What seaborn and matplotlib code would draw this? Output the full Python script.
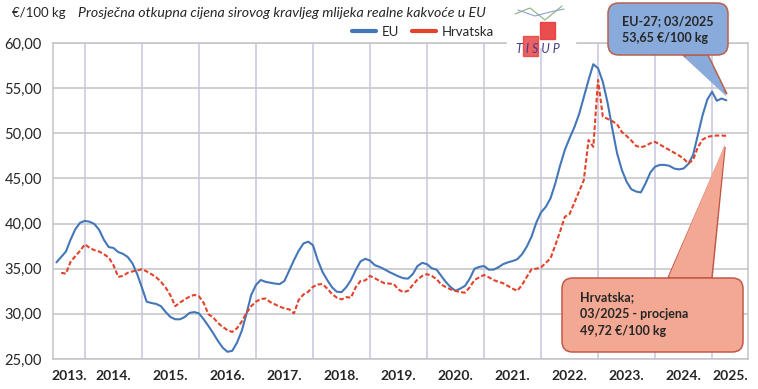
import matplotlib
matplotlib.use("Agg")
import matplotlib.pyplot as plt
import seaborn as sns
import pandas as pd
from matplotlib.patches import FancyBboxPatch, Polygon, Rectangle
from matplotlib.lines import Line2D
from matplotlib.ticker import FuncFormatter

# monthly prices, EUR/100 kg
eu_start = "2013-06"
eu_values = [
    35.7, 36.3, 36.9, 38.25, 39.4, 40.1, 40.3,
    40.2, 39.95, 39.3, 38.2, 37.4, 37.3, 36.85, 36.65, 36.3, 35.6, 34.4, 32.9,
    31.35, 31.2, 31.1, 30.85, 30.2, 29.65, 29.4, 29.4, 29.65, 30.1, 30.2, 30.05,
    29.4, 28.65, 27.85, 27.0, 26.25, 25.8, 25.9, 26.8, 28.1, 30.0, 32.1, 33.2,
    33.75, 33.55, 33.45, 33.35, 33.3, 33.65, 34.8, 35.95, 37.0, 37.8, 38.0, 37.6,
    35.95, 34.65, 33.75, 32.95, 32.45, 32.4, 32.95, 33.75, 34.85, 35.8, 36.1, 35.9,
    35.4, 35.2, 34.95, 34.65, 34.4, 34.15, 33.95, 33.9, 34.4, 35.3, 35.65, 35.5,
    35.05, 34.9, 34.2, 33.5, 32.95, 32.55, 32.8, 33.1, 33.9, 35.0, 35.2, 35.3,
    34.9, 34.9, 35.15, 35.5, 35.7, 35.85, 36.05, 36.6, 37.45, 38.55, 40.1, 41.25,
    41.85, 42.8, 44.45, 46.4, 48.15, 49.45, 50.65, 52.1, 54.0, 55.9, 57.65, 57.2,
    55.7, 53.4, 50.5, 47.8, 45.95, 44.65, 43.8, 43.55, 43.45, 44.45, 45.65, 46.3,
    46.5, 46.5, 46.4, 46.1, 46.0, 46.1, 46.6, 47.6, 49.8, 52.0, 53.75, 54.6,
    53.6, 53.85, 53.65,
]

hr_start = "2013-07"
hr_values = [
    34.55, 34.45, 35.8, 36.4, 37.0, 37.7,
    37.3, 37.05, 36.9, 36.6, 36.25, 35.4, 34.1, 34.2, 34.55, 34.7, 34.8, 34.95,
    34.7, 34.4, 34.05, 33.55, 32.9, 32.05, 30.85, 31.25, 31.6, 31.9, 32.1, 31.95,
    31.2, 29.95, 29.6, 29.0, 28.55, 28.2, 28.0, 28.4, 29.15, 30.1, 30.85, 31.35,
    31.65, 31.7, 31.3, 31.05, 30.8, 30.6, 30.5, 30.05, 31.55, 32.15, 32.45, 33.0,
    33.25, 33.3, 32.8, 32.2, 31.8, 31.6, 31.85, 31.8, 32.95, 33.65, 33.7, 34.2,
    33.95, 33.65, 33.4, 33.35, 33.3, 32.7, 32.4, 32.55, 33.2, 33.8, 34.2, 34.4,
    34.2, 33.85, 33.25, 32.95, 32.7, 32.55, 32.4, 32.35, 32.95, 33.75, 34.05, 34.3,
    34.05, 33.75, 33.55, 33.4, 33.1, 32.8, 32.55, 33.2, 34.1, 34.95, 35.0, 35.15,
    35.65, 36.15, 37.6, 39.1, 40.75, 41.05, 42.3, 43.55, 44.8, 49.25, 48.5, 55.9,
    51.85, 51.6, 51.35, 51.0, 50.15, 49.7, 49.2, 48.6, 48.45, 48.6, 48.9, 49.05,
    48.75, 48.45, 48.15, 47.85, 47.55, 47.2, 46.65, 47.05, 48.45, 49.3, 49.6, 49.7,
    49.75, 49.75, 49.72,
]

years = list(range(2013, 2026))
y_ticks = [25, 30, 35, 40, 45, 50, 55, 60]

eu_note = "EU-27; 03/2025\n53,65 €/100 kg"
hr_note = "Hrvatska;\n03/2025 - procjena\n49,72 €/100 kg"
title = "Prosječna otkupna cijena sirovog kravljeg mlijeka realne kakvoće u EU"


def frame(start, values):
    per = pd.period_range(start, periods=len(values), freq="M")
    return pd.DataFrame({"t": per.year + per.month / 12, "cijena": values})


eu = frame(eu_start, eu_values)
hr = frame(hr_start, hr_values)

sns.set_style("white")
plt.rcParams["font.family"] = ["Lato", "DejaVu Sans"]

W, H = 758, 389
fig = plt.figure(figsize=(W / 100, H / 100), dpi=100)
ax = fig.add_axes([53 / W, 1 - 359 / H, (748 - 53) / W, (359 - 43) / H])


def fx(px):
    return px / W


def fy(py):
    return 1 - py / H


blue = "#4477b8"
red = "#e2432a"

sns.lineplot(data=eu, x="t", y="cijena", color=blue, lw=1.5, ax=ax, zorder=3)
sns.lineplot(data=hr, x="t", y="cijena", color=red, lw=1.5, ax=ax, zorder=3,
             linestyle=(0, (2.2, 1.1)))

ax.set_xlim(2013.44, 2025.63)
ax.set_ylim(25, 60)
ax.set_yticks(y_ticks)
ax.yaxis.set_major_formatter(FuncFormatter(lambda v, p: f"{v:.2f}".replace(".", ",")))
for y in y_ticks:
    ax.axhline(y, color="#c3c3c8", lw=1.1, zorder=1)
for yr in years[1:]:
    ax.axvline(yr, color="#c6c6e0", lw=1.1, zorder=1)

ax.set_xticks(years[1:])
ax.set_xticklabels([])
ax.tick_params(axis="x", which="major", length=0)
lo, hi = ax.get_xlim()
centers = [(max(y, lo) + min(y + 1, hi)) / 2 for y in years]
ax.set_xticks(centers, minor=True)
ax.set_xticklabels([f"{y}." for y in years], minor=True, fontsize=10, fontweight="bold")
ax.tick_params(axis="x", which="minor", length=0, pad=8)
ax.tick_params(axis="y", length=0, pad=8, labelsize=10.5)
ax.set_xlabel("")
ax.set_ylabel("")
for s in ax.spines.values():
    s.set_color("#c3c3c8")
    s.set_linewidth(1.1)

# header texts
fig.text(fx(12), fy(13), "€/100 kg", fontsize=9.5, va="center")
fig.text(fx(78), fy(13), title, fontsize=10.2, style="italic", va="center")

handles = [Line2D([], [], color=blue, lw=3), Line2D([], [], color=red, lw=3)]
fig.legend(handles, ["EU", "Hrvatska"], loc="center left",
           bbox_to_anchor=(fx(340), fy(32)), ncol=2, frameon=False, fontsize=9.5,
           handlelength=1.8, handletextpad=0.45, columnspacing=1.0)

# logo
fig.add_artist(Rectangle((fx(507), fy(47)), fx(68), 8 / H, color="white", zorder=5))
fig.add_artist(Line2D([fx(515), fx(530), fx(545), fx(562)], [fy(14), fy(8), fy(20), fy(6)],
                      color="#8ab07a", lw=0.8, zorder=6))
fig.add_artist(Line2D([fx(518), fx(535), fx(550), fx(564)], [fy(10), fy(16), fy(12), fy(9)],
                      color="#8da0d0", lw=0.8, zorder=6))
fig.add_artist(Rectangle((fx(540), fy(39)), 15 / W, 17 / H, color="#e83a3a", alpha=0.9, zorder=6))
fig.add_artist(Rectangle((fx(523), fy(56)), 15 / W, 20 / H, color="#e83a3a", alpha=0.8, zorder=6))
fig.text(fx(538), fy(49), "T I S U P", fontsize=9, color="#4b3a8c", style="italic",
         ha="center", va="center", zorder=7)


def callout(x0, y0, x1, y1, base_l, base_r, tip, face, edge, text, tx, ty):
    yb = y1 if tip[1] > y1 else y0
    sgn = -1 if tip[1] > y1 else 1
    poly = [(fx(base_l), fy(yb)), (fx(tip[0]), fy(tip[1])), (fx(base_r), fy(yb))]
    fig.add_artist(Polygon(poly, closed=True, fc=face, ec=edge, lw=1.1, zorder=8))
    box = FancyBboxPatch((fx(x0), fy(y1)), fx(x1) - fx(x0), fy(y0) - fy(y1),
                         boxstyle="round,pad=0,rounding_size=0.014",
                         fc=face, ec=edge, lw=1.1, zorder=9, mutation_aspect=W / H)
    fig.add_artist(box)
    cover = [(fx(base_l + 1.2), fy(yb - sgn * 2)), (fx(tip[0]), fy(tip[1] - sgn * 3)),
             (fx(base_r - 1.2), fy(yb - sgn * 2))]
    fig.add_artist(Polygon(cover, closed=True, fc=face, ec="none", zorder=10))
    fig.text(fx(tx), fy(ty), text, fontsize=9, fontweight="bold", va="top",
             linespacing=1.5, zorder=11)


callout(608, 3, 728, 55, 683, 708, (727, 94), "#89abdb", "#b8614f", eu_note, 622, 15)
callout(562, 278, 743, 352, 668, 712, (725, 147), "#f3a894", "#c25848", hr_note, 580, 291)

fig.savefig("out.png", dpi=100)
